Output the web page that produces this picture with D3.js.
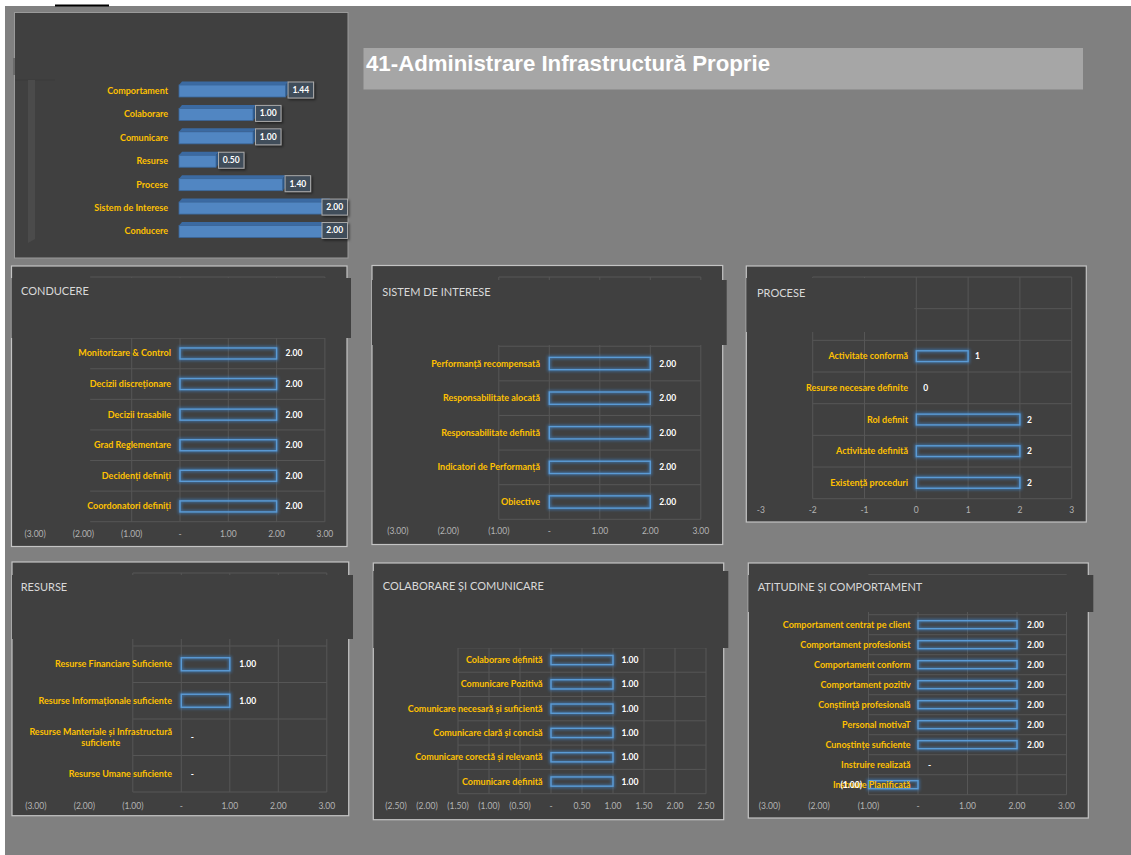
<!DOCTYPE html>
<html>
<head>
<meta charset="utf-8">
<script src="https://cdn.jsdelivr.net/npm/d3@7"></script>
<style>
  body { margin: 0; background: #fff; }
  svg { display: block; }
  text { font-family: Lato, "Open Sans", sans-serif; }
  .cat { fill: #ffc000; font-weight: bold; font-size: 9px; }
  .val { fill: #fff; font-weight: bold; font-size: 8.5px; }
  .tick { fill: #b4b4b4; font-size: 8.5px; }
  .ptitle { fill: #d9d9d9; font-size: 11px; }
</style>
</head>
<body>
<script>
// summary (top-left 3D bar chart)
const summaryCats = ["Comportament", "Colaborare", "Comunicare", "Resurse", "Procese", "Sistem de Interese", "Conducere"];
const summaryVals = [1.44, 1.00, 1.00, 0.50, 1.40, 2.00, 2.00];

const conducereCats = ["Monitorizare & Control", "Decizii discreționare", "Decizii trasabile", "Grad Reglementare", "Decidenți definiți", "Coordonatori definiți"];
const conducereVals = [2, 2, 2, 2, 2, 2];

const sistemCats = ["Performanță recompensată", "Responsabilitate alocată", "Responsabilitate definită", "Indicatori de Performanță", "Obiective"];
const sistemVals = [2, 2, 2, 2, 2];

const proceseCats = ["Activitate conformă", "Resurse necesare definite", "Rol definit", "Activitate definită", "Existență proceduri"];
const proceseVals = [1, 0, 2, 2, 2];

const resurseCats = ["Resurse Financiare Suficiente", "Resurse Informaționale suficiente", "Resurse Manteriale și Infrastructură suficiente", "Resurse Umane suficiente"];
const resurseVals = [1, 1, 0, 0];

const colabCats = ["Colaborare definită", "Comunicare Pozitivă", "Comunicare necesară și suficientă", "Comunicare clară și concisă", "Comunicare corectă și relevantă", "Comunicare definită"];
const colabVals = [1, 1, 1, 1, 1, 1];

const atitudineCats = ["Comportament centrat pe client", "Comportament profesionist", "Comportament conform", "Comportament pozitiv", "Conștiință profesională", "Personal motivaT", "Cunoștințe suficiente", "Instruire realizată", "Instruire Planificată"];
const atitudineVals = [2, 2, 2, 2, 2, 2, 2, 0, -1];

const ticks3 = [-3, -2, -1, 0, 1, 2, 3];
const ticks25 = [-2.5, -2, -1.5, -1, -0.5, 0, 0.5, 1, 1.5, 2, 2.5];

const pageTitle = "41-Administrare Infrastructură Proprie";

const fmtAcc = v => v === 0 ? "-" : v < 0 ? "(" + Math.abs(v).toFixed(2) + ")" : v.toFixed(2);
const fmtInt = v => String(v);

const W = 1131, H = 855;
const svg = d3.select("body").append("svg").attr("width", W).attr("height", H);

const defs = svg.append("defs");
const glow = defs.append("filter").attr("id", "glow")
  .attr("x", "-30%").attr("y", "-80%").attr("width", "160%").attr("height", "260%");
glow.append("feGaussianBlur").attr("stdDeviation", 1.8);
const shadow = defs.append("filter").attr("id", "shadow")
  .attr("x", "-30%").attr("y", "-30%").attr("width", "170%").attr("height", "170%");
shadow.append("feDropShadow").attr("dx", 1.5).attr("dy", 1.5).attr("stdDeviation", 1.2)
  .attr("flood-color", "#000").attr("flood-opacity", 0.5);

// page background
svg.append("rect").attr("x", 5).attr("y", 6).attr("width", W - 5).attr("height", H - 6).attr("fill", "#808080");
svg.append("rect").attr("x", 55).attr("y", 4.5).attr("width", 54).attr("height", 2).attr("fill", "#000");

// title bar
svg.append("rect").attr("x", 363.5).attr("y", 48).attr("width", 719.5).attr("height", 41.5).attr("fill", "#a6a6a6");
svg.append("text").attr("x", 366).attr("y", 71)
  .attr("textLength", 404).attr("lengthAdjust", "spacingAndGlyphs")
  .style("font-family", "'Liberation Sans Narrow', 'Arial Narrow', 'Liberation Sans', sans-serif")
  .style("font-weight", "bold").style("font-size", "22px").attr("fill", "#fff")
  .text(pageTitle);

// ---- summary chart ----
function drawSummary() {
  const g = svg.append("g");
  g.append("rect").attr("x", 14.5).attr("y", 12.5).attr("width", 333.5).attr("height", 245.5)
    .attr("fill", "#404040").attr("stroke", "#9a9a9a");
  g.append("rect").attr("x", 13).attr("y", 58).attr("width", 2).attr("height", 17).attr("fill", "#6a6a6a");
  g.append("line").attr("x1", 15).attr("x2", 55).attr("y1", 80).attr("y2", 80).attr("stroke", "#3a3a3a");
  g.append("polygon").attr("points", "28,80 35,80 35,239 28,243").attr("fill", "#4b4b4b");

  const x = d3.scaleLinear().domain([0, 2]).range([179, 327]);
  const y = d3.scaleBand().domain(summaryCats).range([79.3, 243.2]);
  const dx = 3, dy = 3.5, hh = 6;
  const rows = summaryCats.map((c, i) => ({ c, v: summaryVals[i], cy: y(c) + y.bandwidth() / 2 }));

  g.selectAll(".stop").data(rows).join("polygon")
    .attr("points", d => {
      const x0 = x(0), x1 = x(d.v), t = d.cy - hh;
      return [[x0, t], [x0 + dx, t - dy], [x1 + dx, t - dy], [x1, t]].join(" ");
    })
    .attr("fill", "#3b6aa2");
  g.selectAll(".sside").data(rows).join("polygon")
    .attr("points", d => {
      const x1 = x(d.v), t = d.cy - hh, b = d.cy + hh;
      return [[x1, t], [x1 + dx, t - dy], [x1 + dx, b - dy], [x1, b]].join(" ");
    })
    .attr("fill", "#2d5888");
  g.selectAll(".sfront").data(rows).join("rect")
    .attr("x", x(0)).attr("y", d => d.cy - hh)
    .attr("width", d => x(d.v) - x(0)).attr("height", hh * 2)
    .attr("fill", "#5186c2").attr("stroke", "#3a679c").attr("stroke-width", 0.8);

  g.selectAll(".scat").data(rows).join("text")
    .attr("class", "cat").style("font-size", "9px")
    .attr("x", 168).attr("y", d => d.cy + 3).attr("text-anchor", "end")
    .text(d => d.c);

  const bw = 25.5;
  const lab = g.selectAll(".slab").data(rows).join("g")
    .attr("transform", d => `translate(${Math.min(x(d.v) + 2.5, 347.5 - bw)},${d.cy - 9})`);
  lab.append("rect").attr("width", bw).attr("height", 16)
    .attr("fill", "#414d5a").attr("stroke", "#a9a9a9").attr("filter", "url(#shadow)");
  lab.append("text").attr("class", "val").attr("x", bw / 2).attr("y", 11)
    .attr("text-anchor", "middle").text(d => d.v.toFixed(2));
}
drawSummary();

// ---- detail panels ----
const panels = [
  { title: "CONDUCERE", cats: conducereCats, vals: conducereVals, fmt: fmtAcc, ticks: ticks3,
    box: [11.5, 266, 335.5, 280.5], tbox: [11.5, 278, 339.5, 60], tpos: [21, 295],
    top: 277, bottom: 521.7, range: [35.1, 324.9], labelRight: 171, tickY: 537, gridFrom: -1.86, valOff: 9, frac: 0.36 },
  { title: "SISTEM DE INTERESE", cats: sistemCats, vals: sistemVals, fmt: fmtAcc, ticks: ticks3,
    box: [372, 265.5, 350.7, 279], tbox: [372, 280, 354.7, 65], tpos: [382.3, 296],
    top: 277, bottom: 519.3, range: [397.8, 700.8], labelRight: 540, tickY: 534, gridFrom: -1, valOff: 9, frac: 0.355 },
  { title: "PROCESE", cats: proceseCats, vals: proceseVals, fmt: fmtInt, ticks: ticks3,
    box: [746.3, 266, 340, 256], tbox: [746.3, 278, 168, 54], tpos: [757, 297],
    top: 277, bottom: 498.7, range: [760.9, 1071.7], labelRight: 908, tickY: 513, gridFrom: -2, valOff: 7, frac: 0.34 },
  { title: "RESURSE", cats: resurseCats, vals: resurseVals, fmt: fmtAcc, ticks: ticks3,
    box: [12, 562, 336.7, 253.7], tbox: [12, 575, 341, 64], tpos: [20.7, 591],
    top: 573, bottom: 792, range: [35.8, 326.8], labelRight: 172, tickY: 808.5, gridFrom: -1, valOff: 9.5, frac: 0.356 },
  { title: "COLABORARE ȘI COMUNICARE", cats: colabCats, vals: colabVals, fmt: fmtAcc, ticks: ticks25,
    box: [373.3, 563, 350.4, 256.7], tbox: [373.3, 571, 355, 77], tpos: [382.7, 589.5],
    top: 599.3, bottom: 793.7, range: [396, 706], labelRight: 542.7, tickY: 809, gridFrom: -1.5, valOff: 8.5, frac: 0.38 },
  { title: "ATITUDINE ȘI COMPORTAMENT", cats: atitudineCats, vals: atitudineVals, fmt: fmtAcc, ticks: ticks3,
    box: [748.3, 563, 340, 255], tbox: [748.3, 575, 345, 37], tpos: [757.7, 590.5],
    top: 574.7, bottom: 794.7, range: [769.5, 1066.5], labelRight: 910.7, tickY: 809, gridFrom: -1, valOff: 10, frac: 0.4 }
];

function addCatLabel(g, str, xr, yc, maxW) {
  const t = g.append("text").attr("class", "cat").attr("text-anchor", "end")
    .attr("x", xr).attr("y", yc + 3).text(str);
  if (t.node().getComputedTextLength() <= maxW) return;
  const words = str.split(" ");
  const lines = [];
  let line = [];
  words.forEach(w => {
    t.text(line.concat(w).join(" "));
    if (t.node().getComputedTextLength() > maxW && line.length) {
      lines.push(line.join(" "));
      line = [w];
    } else line.push(w);
  });
  lines.push(line.join(" "));
  let widest = 0;
  lines.forEach(l => { t.text(l); widest = Math.max(widest, t.node().getComputedTextLength()); });
  t.text(null).attr("text-anchor", "middle").attr("x", null).attr("y", null);
  const lh = 11.4, y0 = yc + 3 - (lines.length - 1) * lh / 2;
  lines.forEach((l, i) => {
    t.append("tspan").attr("x", xr - widest / 2).attr("y", y0 + i * lh).text(l);
  });
}

function drawPanel(p) {
  const g = svg.append("g");
  const n = p.cats.length + 2;
  const x = d3.scaleLinear().domain([p.ticks[0], p.ticks[p.ticks.length - 1]]).range(p.range);
  const y = d3.scaleBand().domain(d3.range(n)).range([p.top, p.bottom]);
  const xmax = p.ticks[p.ticks.length - 1];

  g.append("rect").attr("x", p.box[0]).attr("y", p.box[1]).attr("width", p.box[2]).attr("height", p.box[3])
    .attr("fill", "#404040").attr("stroke", "#c4c4c4").attr("stroke-width", 1.2);

  // gridlines
  g.selectAll(".hg").data(d3.range(n + 1)).join("line")
    .attr("x1", x(p.gridFrom)).attr("x2", x(xmax))
    .attr("y1", i => i < n ? y(i) : p.bottom).attr("y2", i => i < n ? y(i) : p.bottom)
    .attr("stroke", "#565656").attr("stroke-width", 1);
  g.selectAll(".vg").data(p.ticks.filter(t => t >= p.gridFrom - 1e-9)).join("line")
    .attr("x1", d => x(d)).attr("x2", d => x(d))
    .attr("y1", p.top).attr("y2", p.bottom)
    .attr("stroke", "#565656").attr("stroke-width", 1);

  // title box + title
  g.append("rect").attr("x", p.tbox[0]).attr("y", p.tbox[1]).attr("width", p.tbox[2]).attr("height", p.tbox[3])
    .attr("fill", "#404040");
  g.append("text").attr("class", "ptitle").attr("x", p.tpos[0]).attr("y", p.tpos[1]).text(p.title);

  // tick labels
  g.selectAll(".tk").data(p.ticks).join("text")
    .attr("class", "tick").attr("text-anchor", "middle")
    .attr("x", d => x(d)).attr("y", p.tickY).text(d => p.fmt(d));

  const rows = p.cats.map((c, i) => ({ c, v: p.vals[i], cy: y(i + 2) + y.bandwidth() / 2 }));
  const bh = y.bandwidth() * p.frac;
  const bars = rows.filter(d => d.v !== 0);

  g.selectAll(".bglow").data(bars).join("rect")
    .attr("x", d => x(Math.min(0, d.v))).attr("y", d => d.cy - bh / 2)
    .attr("width", d => Math.abs(x(d.v) - x(0))).attr("height", bh)
    .attr("fill", "none").attr("stroke", "#3d8fe0").attr("stroke-width", 3.5)
    .attr("opacity", 0.55).attr("filter", "url(#glow)");
  g.selectAll(".bar").data(bars).join("rect")
    .attr("x", d => x(Math.min(0, d.v))).attr("y", d => d.cy - bh / 2)
    .attr("width", d => Math.abs(x(d.v) - x(0))).attr("height", bh)
    .attr("fill", "none").attr("stroke", "#5b9bd5").attr("stroke-width", 1.4);

  rows.forEach(d => addCatLabel(g, d.c, p.labelRight, d.cy, 152));

  g.selectAll(".vl").data(rows).join("text")
    .attr("class", "val")
    .attr("text-anchor", d => d.v < 0 ? "end" : "start")
    .attr("x", d => d.v < 0 ? x(d.v) - 6.5 : x(d.v) + p.valOff)
    .attr("y", d => d.cy + 3)
    .text(d => p.fmt(d.v));
}
panels.forEach(drawPanel);
</script>
</body>
</html>
